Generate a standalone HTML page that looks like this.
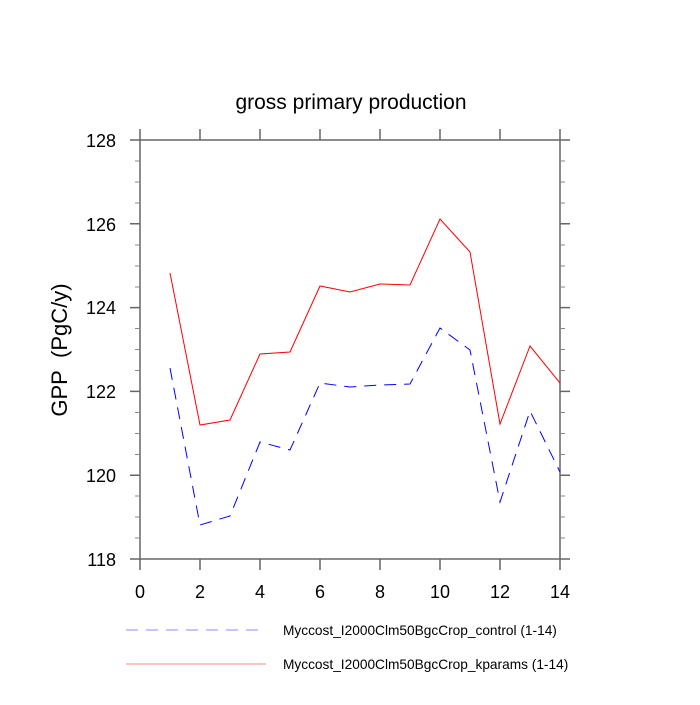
<!DOCTYPE html>
<html><head><style>body{margin:0;background:#fff}</style></head><body>
<svg width="700" height="700" xmlns="http://www.w3.org/2000/svg" font-family="Liberation Sans, sans-serif">
<rect width="700" height="700" fill="#fff"/>
<text x="351" y="109" font-size="21" text-anchor="middle">gross primary production</text>
<text transform="translate(67,350) rotate(-90)" font-size="22" text-anchor="middle">GPP&#160;&#160;(PgC/y)</text>
<g stroke="#666" stroke-width="1.5" fill="none">
<rect x="140" y="140" width="420" height="419"/>
<path d="M140,140h-10M140,223.8h-10M140,307.6h-10M140,391.4h-10M140,475.2h-10M140,559h-10
M560,140h10M560,223.8h10M560,307.6h10M560,391.4h10M560,475.2h10M560,559h10
M140,559v11M200,559v11M260,559v11M320,559v11M380,559v11M440,559v11M500,559v11M560,559v11
M140,140v-11M200,140v-11M260,140v-11M320,140v-11M380,140v-11M440,140v-11M500,140v-11M560,140v-11"/>
</g>
<g stroke="#888" stroke-width="1">
<path d="M140,161h-5M140,182h-5M140,203h-5M140,245h-5M140,266h-5M140,287h-5M140,328.5h-5M140,349.5h-5M140,370.5h-5M140,412.5h-5M140,433.5h-5M140,454.5h-5M140,496h-5M140,517h-5M140,538h-5
M560,161h5M560,182h5M560,203h5M560,245h5M560,266h5M560,287h5M560,328.5h5M560,349.5h5M560,370.5h5M560,412.5h5M560,433.5h5M560,454.5h5M560,496h5M560,517h5M560,538h5"/>
</g>
<g font-size="18" text-anchor="end">
<text x="116" y="147">128</text><text x="116" y="231">126</text><text x="116" y="314">124</text><text x="116" y="398">122</text><text x="116" y="482">120</text><text x="116" y="566">118</text>
</g>
<g font-size="18" text-anchor="middle">
<text x="140" y="598">0</text><text x="200" y="598">2</text><text x="260" y="598">4</text><text x="320" y="598">6</text><text x="380" y="598">8</text><text x="440" y="598">10</text><text x="500" y="598">12</text><text x="560" y="598">14</text>
</g>
<polyline fill="none" stroke="#f00" stroke-width="1" points="170,273 200,425 230,420 260,354 290,352 320,286 350,292 380,284 410,285 440,219 470,252 500,424 530,346 560,383"/>
<polyline fill="none" stroke="#00f" stroke-width="1" stroke-dasharray="12,8" points="170,368 200,525 230,516 260,442 290,450 320,383 350,387 380,385 410,384 440,328 470,350 500,502 530,411 560,472"/>
<line x1="126" y1="630" x2="265" y2="630" stroke="#88f" stroke-width="1" stroke-dasharray="12,8"/>
<line x1="126" y1="664" x2="266" y2="664" stroke="#f88" stroke-width="1"/>
<text x="283" y="635" font-size="13.7">Myccost_I2000Clm50BgcCrop_control (1-14)</text>
<text x="283" y="669" font-size="13.7">Myccost_I2000Clm50BgcCrop_kparams (1-14)</text>
</svg>
</body></html>
